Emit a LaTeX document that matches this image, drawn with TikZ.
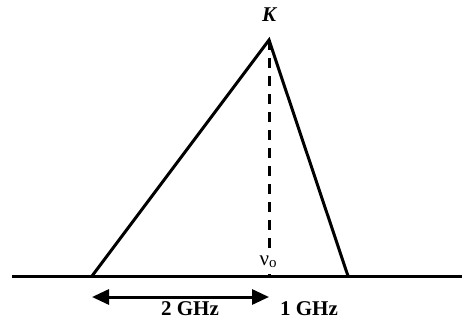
\documentclass[tikz,border=0pt]{standalone}
\usepackage{fontspec}
\setmainfont{Liberation Serif}
\usetikzlibrary{arrows.meta}
\begin{document}
\begin{tikzpicture}[x=1pt,y=-1pt,
  lbl/.style={font=\fontsize{21}{23}\selectfont\bfseries, inner sep=0pt},
  tri/.style={line width=3pt, line join=miter},
  base/.style={line width=3pt},
  dim/.style={line width=3pt, {Triangle[length=17pt,width=15pt]}-{Triangle[length=17pt,width=15pt]}}]
\useasboundingbox (0,0) rectangle (462,324);
\coordinate (L) at (92,276);
\coordinate (A) at (269,40);
\coordinate (R) at (348,276);
\coordinate (F) at (269,276);
\coordinate (B0) at (12,276);
\coordinate (B1) at (462,276);
\draw[base] (B0) -- (B1);
\draw[line width=3pt, dash pattern=on 10pt off 8pt] (A) -- (F);
\draw[tri] (L) -- (A) -- (R);
\node[lbl, font=\fontsize{21}{23}\selectfont\bfseries\itshape] (K) at (269,15) {K};
\node[fill=white, inner sep=1pt, font=\fontsize{21}{23}\selectfont] (nu) at (268,262) {ν\raisebox{-0.25ex}{\fontsize{15}{17}\selectfont o}};
\coordinate (D0) at (92,297);
\coordinate (D1) at (269,297);
\draw[dim] (D0) -- (D1);
\node[lbl, fill=white, inner xsep=12pt, inner ysep=3pt] (g2) at (190,309) {2 GHz};
\node[lbl] (g1) at (309,309) {1 GHz};
\end{tikzpicture}
\end{document}
